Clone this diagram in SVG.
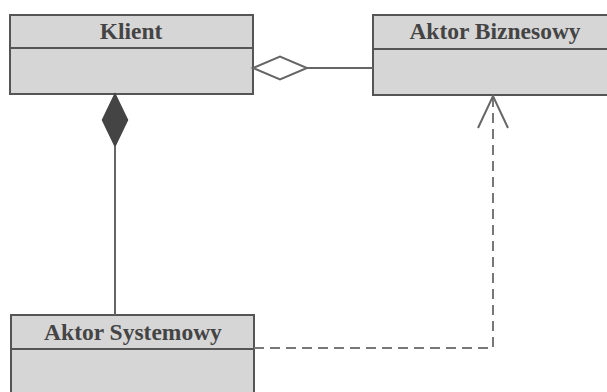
<svg xmlns="http://www.w3.org/2000/svg" width="607" height="392" viewBox="0 0 607 392">
<style>
.box{fill:#d6d6d6;stroke:#555;stroke-width:2}
.div{stroke:#555;stroke-width:2}
.t{font-family:"Liberation Serif","Times New Roman",serif;font-weight:bold;font-size:23.5px;fill:#444;text-anchor:middle}
.ln{stroke:#666;stroke-width:2;fill:none}
.dash{stroke:#777;stroke-width:2;fill:none;stroke-dasharray:10,6}
</style>
<rect width="607" height="392" fill="#fff"/>
<g id="klient">
<rect class="box" x="10" y="15" width="243" height="79"/>
<line class="div" x1="10" y1="48" x2="253" y2="48"/>
<text class="t" x="131" y="39">Klient</text>
</g>
<g id="aktor-biznesowy">
<rect class="box" x="373" y="15" width="240" height="80"/>
<line class="div" x1="373" y1="49" x2="613" y2="49"/>
<text class="t" x="495" y="39">Aktor Biznesowy</text>
</g>
<g id="aktor-systemowy">
<rect class="box" x="11" y="315" width="243" height="90"/>
<line class="div" x1="11" y1="349" x2="254" y2="349"/>
<text class="t" x="133" y="340">Aktor Systemowy</text>
</g>
<g id="connectors">
<polygon points="253,68 280,56.5 307,68 280,79.5" fill="#fff" stroke="#666" stroke-width="2"/>
<line class="ln" x1="307" y1="68" x2="373" y2="68"/>
<polygon points="115,94 127.5,120 115,146 102.5,120" fill="#444" stroke="#444" stroke-width="1.5"/>
<line class="ln" x1="115" y1="146" x2="115" y2="315"/>
<polyline class="dash" points="254,348 493,348 493,97"/>
<polyline class="ln" points="478,128 493,96 508,128"/>
</g>
</svg>
